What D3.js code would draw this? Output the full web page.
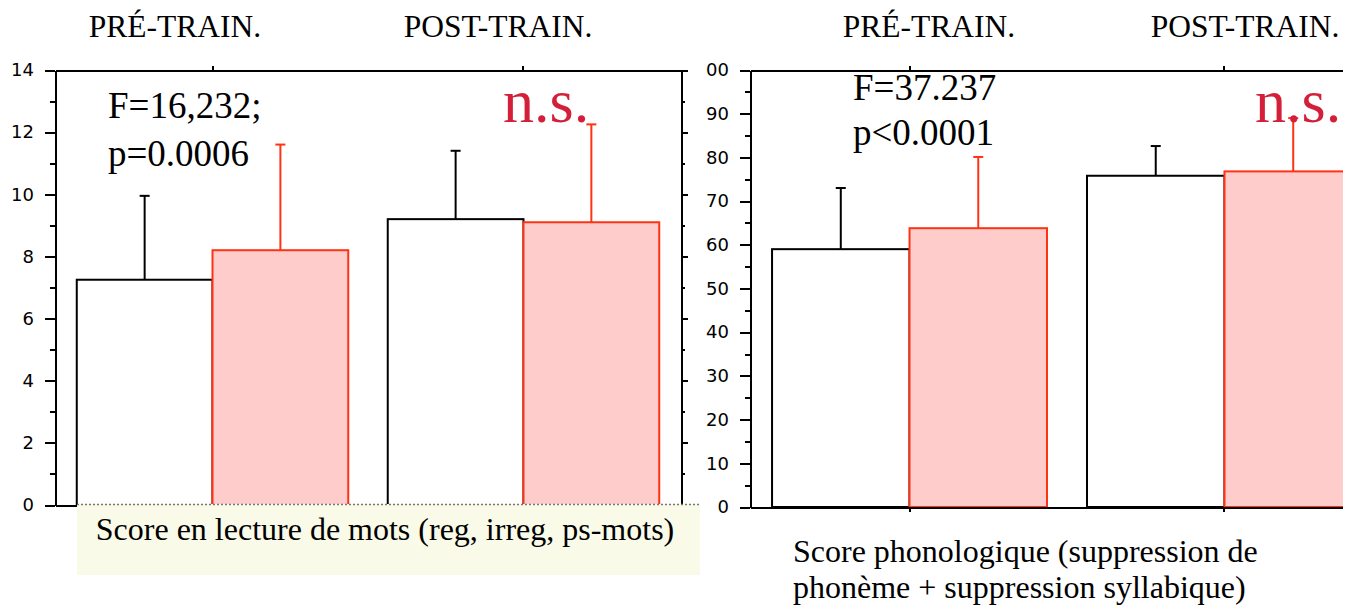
<!DOCTYPE html>
<html>
<head>
<meta charset="utf-8">
<script src="https://cdn.jsdelivr.net/npm/d3@7/dist/d3.min.js"></script>
<style>
    body { margin: 0; background: #fff; }
    .chart text.serif { font-family: "Liberation Serif", "Times New Roman", serif; fill: #000; }
    .chart .axis path, .chart .axis line { stroke: #000; stroke-width: 2; shape-rendering: crispEdges; }
    .chart .axis text { font-family: "DejaVu Sans", sans-serif; font-size: 18px; fill: #000; }
</style>
</head>
<body>
<svg class="chart" width="1355" height="610"></svg>
<script>
    // données
    var groups = ["PRÉ-TRAIN.", "POST-TRAIN."];
    var series = ["blanc", "rose"];

    var readWhite = [7.25, 9.2];
    var readWhiteSd = [2.7, 2.2];
    var readPink = [8.2, 9.1];
    var readPinkSd = [3.4, 3.15];
    var readTicks = [0, 2, 4, 6, 8, 10, 12, 14];
    var readMinor = [1, 3, 5, 7, 9, 11, 13];

    var phonoWhite = [59, 75.8];
    var phonoWhiteSd = [14, 6.8];
    var phonoPink = [63.8, 76.8];
    var phonoPinkSd = [16.3, 12.2];
    var phonoTicks = [0, 10, 20, 30, 40, 50, 60, 70, 80, 90, 100];
    var phonoMinor = [5, 15, 25, 35, 45, 55, 65, 75, 85, 95];

    var red = "#ff3314";
    var pink = "#ffcccc";
    var nsColor = "#d41f3a";

    var chart = d3.select(".chart");

    var defs = chart.append("defs");
    // coupe le "1" de 100 (coordonnées locales de l'axe, placé à x=750)
    defs.append("clipPath").attr("id", "clipRight")
        .append("rect").attr("x", -44).attr("y", 0).attr("width", 80).attr("height", 610);

    function drawPanel(g, p) {
        var y = d3.scaleLinear().domain(p.domain).range([p.bottom, p.top]);
        var x = d3.scaleBand().domain(groups).range(p.xRange)
            .paddingInner(p.padIn).paddingOuter(p.padOut);
        var xs = d3.scaleBand().domain(series).range([0, x.bandwidth()]);

        var rows = [];
        groups.forEach(function (grp, i) {
            rows.push({ g: grp, s: series[0], v: p.white[i], sd: p.whiteSd[i] });
            rows.push({ g: grp, s: series[1], v: p.pink[i], sd: p.pinkSd[i] });
        });

        // barres d'erreur (sous les barres)
        rows.forEach(function (d) {
            var cx = x(d.g) + xs(d.s) + xs.bandwidth() / 2;
            var col = d.s === series[0] ? "#000" : red;
            g.append("line")
                .attr("x1", cx).attr("x2", cx)
                .attr("y1", y(d.v)).attr("y2", y(d.v + d.sd))
                .attr("stroke", col).attr("stroke-width", 2);
            g.append("line")
                .attr("x1", cx - 5).attr("x2", cx + 5)
                .attr("y1", y(d.v + d.sd)).attr("y2", y(d.v + d.sd))
                .attr("stroke", col).attr("stroke-width", 2);
        });

        g.selectAll("rect.bar").data(rows).enter().append("rect")
            .attr("class", "bar")
            .attr("x", function (d) { return x(d.g) + xs(d.s); })
            .attr("y", function (d) { return y(d.v); })
            .attr("width", xs.bandwidth())
            .attr("height", function (d) { return p.bottom - y(d.v); })
            .attr("fill", function (d) { return d.s === series[0] ? "#fff" : pink; })
            .attr("stroke", function (d) { return d.s === series[0] ? "#000" : red; })
            .attr("stroke-width", 2);

        // axe gauche
        var ya = g.append("g").attr("class", "axis")
            .attr("transform", "translate(" + p.xRange[0] + ",0)")
            .call(d3.axisLeft(y).tickValues(p.ticks).tickSize(10).tickSizeOuter(0).tickPadding(11));
        ya.attr("font-size", null).attr("font-family", null);
        if (p.labelClip) ya.attr("clip-path", "url(#" + p.labelClip + ")");
        g.append("g").attr("class", "axis")
            .attr("transform", "translate(" + p.xRange[0] + ",0)")
            .call(d3.axisLeft(y).tickValues(p.minor).tickSize(5).tickFormat(""))
            .select(".domain").remove();

        // cadre haut et bas
        g.append("g").attr("class", "axis")
            .attr("transform", "translate(0," + p.top + ")")
            .call(d3.axisTop(x).tickSize(4).tickSizeOuter(0).tickFormat(""));
        g.append("g").attr("class", "axis")
            .attr("transform", "translate(0," + p.bottom + ")")
            .call(d3.axisBottom(x).tickSize(5).tickSizeOuter(0).tickFormat(""));

        // axe droit
        if (p.rightAxis) {
            g.append("g").attr("class", "axis")
                .attr("transform", "translate(" + p.xRange[1] + ",0)")
                .call(d3.axisRight(y).tickValues(p.ticks).tickSize(7).tickSizeOuter(0).tickFormat(""));
            g.append("g").attr("class", "axis")
                .attr("transform", "translate(" + p.xRange[1] + ",0)")
                .call(d3.axisRight(y).tickValues(p.minor).tickSize(4).tickFormat(""))
                .select(".domain").remove();
        }
        return x;
    }

    // panneau gauche : lecture
    var left = chart.append("g");
    drawPanel(left, {
        domain: [0, 14], top: 70, bottom: 505, xRange: [55, 681],
        padIn: 0.127, padOut: 0.07,
        white: readWhite, whiteSd: readWhiteSd, pink: readPink, pinkSd: readPinkSd,
        ticks: readTicks, minor: readMinor, rightAxis: true
    });

    // panneau droit : phonologie (coupé à droite)
    defs.append("clipPath").attr("id", "clipPanel")
        .append("rect").attr("x", 0).attr("y", 0).attr("width", 1343).attr("height", 610);
    var right = chart.append("g").attr("clip-path", "url(#clipPanel)");
    drawPanel(right, {
        domain: [0, 100], top: 70, bottom: 507, xRange: [750, 1384],
        padIn: 0.127, padOut: 0.07,
        white: phonoWhite, whiteSd: phonoWhiteSd, pink: phonoPink, pinkSd: phonoPinkSd,
        ticks: phonoTicks, minor: phonoMinor, rightAxis: false, labelClip: "clipRight"
    });

    // titres des groupes
    var heads = [[175, groups[0]], [498, groups[1]], [929, groups[0]], [1245, groups[1]]];
    heads.forEach(function (h) {
        chart.append("text").attr("class", "serif")
            .attr("x", h[0]).attr("y", 37)
            .attr("text-anchor", "middle")
            .attr("font-size", 31.5)
            .text(h[1]);
    });

    // statistiques
    chart.append("text").attr("class", "serif").attr("x", 108).attr("y", 118)
        .attr("font-size", 37).text("F=16,232;");
    chart.append("text").attr("class", "serif").attr("x", 108).attr("y", 166)
        .attr("font-size", 37).text("p=0.0006");
    chart.append("text").attr("class", "serif").attr("x", 853).attr("y", 100)
        .attr("font-size", 37).text("F=37.237");
    chart.append("text").attr("class", "serif").attr("x", 853).attr("y", 145)
        .attr("font-size", 37).text("p<0.0001");

    [503, 1255].forEach(function (nx) {
        chart.append("text").attr("class", "serif")
            .attr("x", nx).attr("y", 122)
            .attr("font-size", 62)
            .style("fill", nsColor)
            .text("n.s.");
    });

    // légende gauche (encadré jaune pâle)
    chart.append("rect")
        .attr("x", 77).attr("y", 504).attr("width", 623).attr("height", 71)
        .attr("fill", "#f9fbe8");
    chart.append("line")
        .attr("x1", 77).attr("x2", 700).attr("y1", 504.5).attr("y2", 504.5)
        .attr("stroke", "#777").attr("stroke-width", 1.5).attr("stroke-dasharray", "2,2");
    chart.append("text").attr("class", "serif")
        .attr("x", 385).attr("y", 540)
        .attr("text-anchor", "middle")
        .attr("font-size", 32)
        .text("Score en lecture de mots (reg, irreg, ps-mots)");

    // légende droite
    chart.append("text").attr("class", "serif")
        .attr("x", 793).attr("y", 562).attr("font-size", 32)
        .text("Score phonologique (suppression de");
    chart.append("text").attr("class", "serif")
        .attr("x", 793).attr("y", 598).attr("font-size", 32)
        .text("phonème + suppression syllabique)");
</script>
</body>
</html>
